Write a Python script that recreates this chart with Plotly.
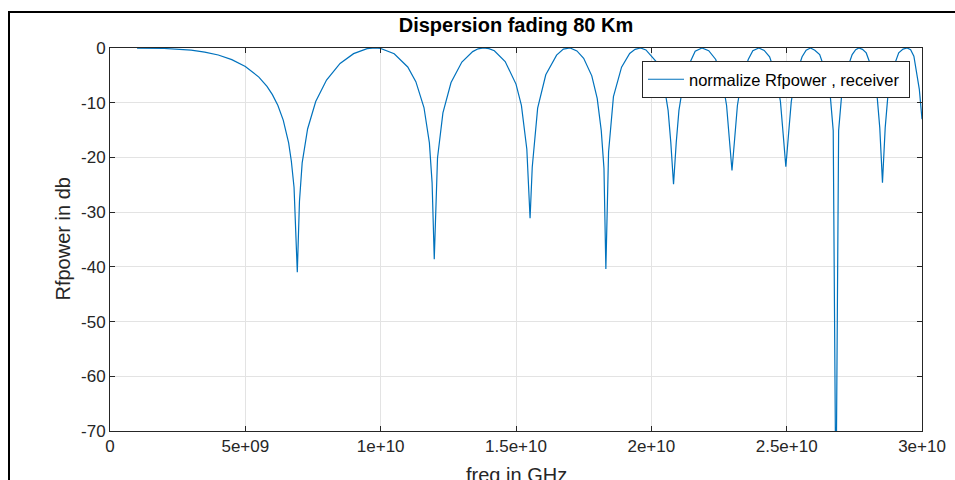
import plotly.graph_objects as go

# ---- data ----
freq_ghz = [
    1.0, 2.0, 3.0, 3.5, 4.0, 4.5, 5.0, 5.5, 5.8, 6.0, 6.2, 6.4, 6.6, 6.7, 6.8, 6.92,
    7.0, 7.1, 7.3, 7.6, 8.0, 8.5, 9.0, 9.5, 9.8, 10.0, 10.5, 11.0, 11.3, 11.6, 11.8, 11.9, 11.98,
    12.1, 12.3, 12.6, 13.0, 13.4, 13.6, 13.8, 14.0, 14.2, 14.6, 15.0, 15.2, 15.4, 15.52,
    15.6, 15.8, 16.1, 16.5, 16.75, 17.0, 17.25, 17.5, 17.8, 18.0, 18.15, 18.25, 18.32,
    18.42, 18.6, 18.9, 19.2, 19.4, 19.6, 19.8, 20.0, 20.22, 20.47, 20.62, 20.72, 20.82,
    20.92, 21.02, 21.17, 21.42, 21.62, 21.87, 22.12, 22.38, 22.63, 22.78, 22.88, 22.98,
    23.08, 23.18, 23.33, 23.58, 23.75, 23.97, 24.17, 24.37, 24.62, 24.77, 24.87, 24.97,
    25.07, 25.17, 25.32, 25.57, 25.72, 25.88, 26.04, 26.22, 26.47, 26.62, 26.72, 26.82,
    26.92, 27.02, 27.17, 27.42, 27.55, 27.67, 27.8, 27.94, 28.19, 28.34, 28.44, 28.54,
    28.64, 28.74, 28.89, 29.14, 29.3, 29.45, 29.58, 29.7, 29.9, 30.0,
]
power_db = [
    -0.01, -0.08, -0.40, -0.74, -1.28, -2.12, -3.38, -5.32, -7.03, -8.53, -10.47, -13.18, -17.36, -20.7, -25.5, -41.0,
    -28.0, -21.0, -14.8, -9.79, -5.85, -2.83, -1.03, -0.13, 0.0, -0.09, -1.05, -3.47, -6.15, -10.88, -17.35, -24.6, -38.6,
    -20.1, -11.85, -6.32, -2.56, -0.66, -0.15, 0.0, -0.12, -0.51, -2.47, -6.6, -10.5, -18.5, -31.1,
    -21.8, -11.0, -4.9, -1.3, -0.19, 0.0, -0.54, -1.87, -5.09, -9.2, -15.1, -22.0, -40.4,
    -19.0, -8.9, -3.5, -1.0, -0.25, 0.0, -0.35, -1.5, -2.72, -6.74, -11.4, -17.3, -24.9,
    -17.3, -11.4, -6.74, -2.72, -0.6, 0.0, -0.5, -2.1, -5.95, -10.5, -16.5, -22.4,
    -16.5, -10.5, -5.95, -2.1, -0.5, 0.0, -0.45, -1.6, -5.3, -9.8, -15.7, -21.7,
    -15.7, -9.8, -5.3, -1.6, -0.4, 0.0, -0.4, -1.2, -4.8, -9.25, -15.1, -85.0,
    -15.1, -9.25, -4.8, -1.2, -0.3, 0.0, -0.25, -0.9, -4.3, -8.7, -14.6, -24.6,
    -14.6, -8.7, -4.3, -0.9, -0.2, 0.0, -0.3, -1.5, -7.5, -13.0,
]
x_tick_vals = [0, 5e9, 1e10, 1.5e10, 2e10, 2.5e10, 3e10]
x_tick_text = ["0", "5e+09", "1e+10", "1.5e+10", "2e+10", "2.5e+10", "3e+10"]
y_tick_vals = [0, -10, -20, -30, -40, -50, -60, -70]
y_tick_text = ["0", "-10", "-20", "-30", "-40", "-50", "-60", "-70"]

freq_hz = [f * 1e9 for f in freq_ghz]

FONT = "Liberation Sans, Arial, Helvetica, sans-serif"
AX = "#262626"
GRID = "#e3e3e3"

W, H = 955, 480
L, T, R, B = 110, 48, 33, 49

fig = go.Figure()
fig.add_trace(go.Scatter(
    x=freq_hz, y=power_db, mode="lines",
    name="normalize Rfpower , receiver\u00a0",
    line=dict(color="#0072BD", width=1.2),
))

fig.update_layout(
    width=W, height=H,
    margin=dict(l=L, r=R, t=T, b=B, pad=0, autoexpand=False),
    paper_bgcolor="white", plot_bgcolor="white",
    font=dict(family=FONT, color=AX, size=17),
    title=dict(text="Dispersion fading 80 Km", x=0.5, xref="paper", xanchor="center",
               y=1 - 25 / H, yanchor="middle",
               font=dict(family=FONT, size=20, color="black", weight="bold")),
    showlegend=True,
    legend=dict(x=(642 - 110) / 812, y=(431 - 61) / 383, xanchor="left", yanchor="top",
                bgcolor="white", bordercolor=AX, borderwidth=1,
                font=dict(family=FONT, size=16.5, color="black"),
                itemwidth=36),
)
fig.update_xaxes(
    range=[0, 3e10], tickvals=x_tick_vals, ticktext=x_tick_text,
    showgrid=True, gridcolor=GRID, gridwidth=1, zeroline=False,
    showline=True, linecolor=AX, linewidth=1, mirror="ticks",
    ticks="inside", ticklen=5, tickcolor=AX, automargin=False,
    tickfont=dict(family=FONT, size=17, color=AX),
)
fig.update_yaxes(
    range=[-70, 0], tickvals=y_tick_vals, ticktext=y_tick_text,
    showgrid=True, gridcolor=GRID, gridwidth=1, zeroline=False,
    showline=True, linecolor=AX, linewidth=1, mirror="ticks",
    ticks="inside", ticklen=5, tickcolor=AX, automargin=False,
    tickfont=dict(family=FONT, size=17, color=AX),
)

fig.add_annotation(text="freq in GHz", x=0.5, y=0, xref="paper", yref="paper",
                   xanchor="center", yanchor="top", yshift=-31, showarrow=False,
                   font=dict(family=FONT, size=20, color=AX))
fig.add_annotation(text="Rfpower in db", x=0, y=0.5, xref="paper", yref="paper",
                   xanchor="center", yanchor="middle", xshift=-48, textangle=-90,
                   showarrow=False, font=dict(family=FONT, size=20, color=AX))

# outer figure frame (left and top edges visible in the reference)
fig.add_shape(type="rect", xref="paper", yref="paper",
              x0=(9 - 110) / 812, x1=1.1, y0=-0.3, y1=(431 - 12) / 383,
              line=dict(color="black", width=2), fillcolor="rgba(0,0,0,0)", layer="above")

fig.write_html(
    "out.html",
    config={"displayModeBar": False},
    post_script="document.body.style.margin='0';document.body.style.overflow='hidden';",
)
